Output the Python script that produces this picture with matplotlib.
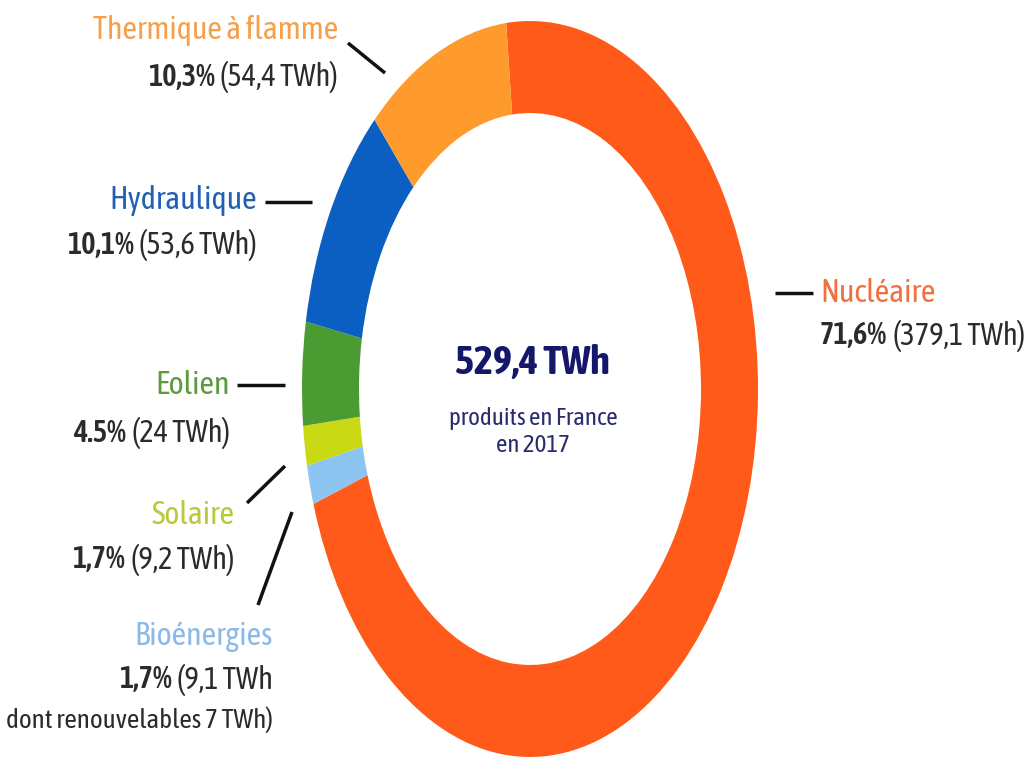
import matplotlib
matplotlib.use("Agg")
import matplotlib.pyplot as plt
from matplotlib import font_manager
from matplotlib.font_manager import FontProperties

# data (clockwise from the top)
sources = ["Nucléaire", "Bioénergies", "Solaire", "Eolien", "Hydraulique", "Thermique à flamme"]
twh = [379.1, 9.1, 9.2, 24.0, 53.6, 54.4]
pct_labels = ["71,6%", "1,7%", "1,7%", "4.5%", "10,1%", "10,3%"]
twh_labels = ["(379,1 TWh)", "(9,1 TWh", "(9,2 TWh)", "(24 TWh)", "(53,6 TWh)", "(54,4 TWh)"]
total_label = "529,4 TWh"
sub_label = "produits en France\nen 2017"
bio_note = "dont renouvelables 7 TWh)"

slice_colors = ["#FF5A19", "#8DC5F2", "#C9DA14", "#4A9B31", "#0B5FC2", "#FF9A2C"]
text_colors = ["#F2703E", "#8BB9E8", "#B9C83C", "#5B9B3D", "#2160B4", "#F4A04C"]

# pick condensed font files directly (regular + bold)
files = {f.fname.split("/")[-1]: f.fname for f in font_manager.fontManager.ttflist}


def font_file(*names):
    for n in names:
        if n in files:
            return files[n]
    return None


reg_file = font_file("AsapCondensed-Regular.ttf", "BarlowSemiCondensed-Regular.ttf")
bold_file = font_file("AsapCondensed-SemiBold.ttf", "AsapCondensed-Bold.ttf",
                      "BarlowSemiCondensed-SemiBold.ttf")
heavy_file = font_file("AsapCondensed-Bold.ttf") or bold_file


def fp(size, bold=False, f=None):
    f = f or (bold_file if bold else reg_file)
    if f is None:
        return FontProperties(family="DejaVu Sans", size=size, weight="bold" if bold else "normal")
    return FontProperties(fname=f, size=size)


W, H = 1026, 759
cx, cy, rx, ry = 530, 389, 228, 368

fig = plt.figure(figsize=(W / 100, H / 100), dpi=100)
ax = fig.add_axes([0, 0, 1, 1])


def px(x):
    return (x - cx) / rx


def py(y):
    return (cy - y) / ry


ax.pie(twh, colors=slice_colors, startangle=96, counterclock=False,
       radius=1.0, wedgeprops=dict(width=0.25, edgecolor="none"))
ax.set_aspect("auto")
ax.set_xlim(px(0), px(W))
ax.set_ylim(py(H), py(0))
ax.axis("off")

# centre text
ax.text(px(532), py(363), total_label, ha="center", va="center",
        fontproperties=fp(29, True, heavy_file), color="#15186A")
ax.text(px(533), py(432), sub_label, ha="center", va="center",
        fontproperties=fp(18), color="#2A2C6E", linespacing=1.2)

fs = 22
dark = "#2B2B2B"

# label layout: (title x, title y, value y, align)
layout = {
    "Nucléaire": (820, 293, 336, "left"),
    "Bioénergies": (273, 636, 680, "right"),
    "Solaire": (234, 516, 560, "right"),
    "Eolien": (230, 385, 433, "right"),
    "Hydraulique": (257, 200, 245, "right"),
    "Thermique à flamme": (338, 30, 77, "right"),
}
leaders = {
    "Nucléaire": ((775, 293), (813, 293)),
    "Bioénergies": ((258, 605), (292, 512)),
    "Solaire": ((247, 503), (285, 466)),
    "Eolien": ((237, 385), (285, 385)),
    "Hydraulique": ((265, 202), (312, 202)),
    "Thermique à flamme": ((348, 43), (385, 73)),
}

for i, name in enumerate(sources):
    x, ty, vy, align = layout[name]
    ax.text(px(x), py(ty), name, ha=align, va="center", fontproperties=fp(fs + 1),
            color=text_colors[i])
    if align == "right":
        t = ax.text(px(x), py(vy), twh_labels[i], ha="right", va="center",
                    fontproperties=fp(fs), color=dark)
        ax.annotate(pct_labels[i], xy=(0, 0.5), xycoords=t, xytext=(-4, 0),
                    textcoords="offset points", ha="right", va="center",
                    fontproperties=fp(fs, True), color=dark)
    else:
        t = ax.text(px(x), py(vy), pct_labels[i], ha="left", va="center",
                    fontproperties=fp(fs, True), color=dark)
        ax.annotate(twh_labels[i], xy=(1, 0.5), xycoords=t, xytext=(4, 0),
                    textcoords="offset points", ha="left", va="center",
                    fontproperties=fp(fs), color=dark)
    (x0, y0), (x1, y1) = leaders[name]
    ax.plot([px(x0), px(x1)], [py(y0), py(y1)], color="#111111", lw=2.5, solid_capstyle="butt")

ax.text(px(273), py(720), bio_note, ha="right", va="center", fontproperties=fp(19.5), color=dark)

fig.savefig("out.png", dpi=100, facecolor="white")
